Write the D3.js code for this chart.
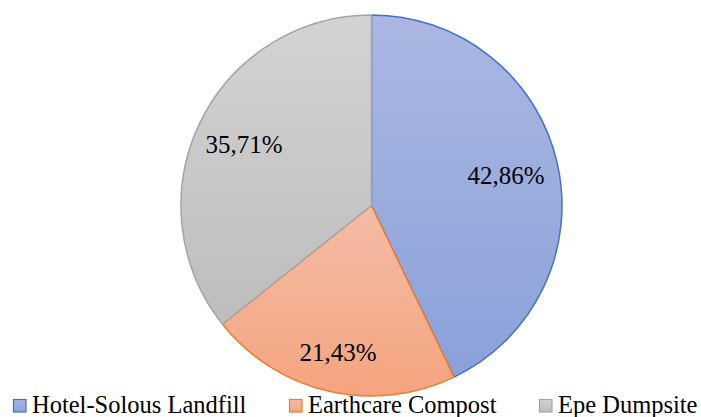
<!DOCTYPE html>
<html><head><meta charset="utf-8">
<script src="https://cdn.jsdelivr.net/npm/d3@7"></script>
<style>body{margin:0;background:#fff}svg{display:block}
text{font-family:"Liberation Serif","Times New Roman",Times,serif;fill:#000}</style>
</head><body>
<svg id="c" width="701" height="417"></svg>
<script>
const categories = ["Hotel-Solous Landfill", "Earthcare Compost", "Epe Dumpsite"];
const values = [42.86, 21.43, 35.71];
const labels = ["42,86%", "21,43%", "35,71%"];
const strokeColors = ["#4472c4", "#ed7d31", "#a5a5a5"];
const topColors = ["#abb7e2", "#f4bca6", "#d3d3d3"];
const bottomColors = ["#8aa1d9", "#f5a47f", "#bdbdbd"];

const svg = d3.select("#c");
const cx = 371.5, cy = 205.5, R = 190.5;

const defs = svg.append("defs");
categories.forEach((c, i) => {
  const g = defs.append("linearGradient").attr("id", "g" + i)
    .attr("x1", 0).attr("y1", 0).attr("x2", 0).attr("y2", 1);
  g.append("stop").attr("offset", "0%").attr("stop-color", topColors[i]);
  g.append("stop").attr("offset", "100%").attr("stop-color", bottomColors[i]);
});

const pie = d3.pie().sort(null).value(d => d)(values);
const arc = d3.arc().innerRadius(0).outerRadius(R);
const g = svg.append("g").attr("transform", `translate(${cx},${cy})`);

g.selectAll("path.s").data(pie).enter().append("path")
  .attr("class", "s")
  .attr("d", arc)
  .attr("fill", (d, i) => `url(#g${i})`)
  .attr("stroke", (d, i) => strokeColors[i])
  .attr("stroke-width", 1.5)
  .attr("stroke-linejoin", "round");

const labelFactor = [0.725, 0.79, 0.743];
g.selectAll("text.l").data(pie).enter().append("text")
  .attr("class", "l")
  .attr("transform", (d, i) => {
    const a = (d.startAngle + d.endAngle) / 2;
    const r = R * labelFactor[i];
    return `translate(${Math.sin(a) * r},${-Math.cos(a) * r})`;
  })
  .attr("text-anchor", "middle")
  .attr("dy", "0.35em")
  .style("font-size", "25px")
  .text((d, i) => labels[i]);

// legend
const legendX = d3.scaleOrdinal().domain(categories).range([13, 289, 539]);
const leg = svg.append("g");
categories.forEach((c, i) => {
  const x = legendX(c);
  leg.append("rect").attr("x", x + 0.5).attr("y", 399.5).attr("width", 12.5).attr("height", 12.5)
    .attr("fill", `url(#g${i})`).attr("stroke", strokeColors[i]).attr("stroke-width", 1.2);
  leg.append("text").attr("x", x + 19).attr("y", 412.5).style("font-size", "24.5px").text(c);
});
</script>
</body></html>
